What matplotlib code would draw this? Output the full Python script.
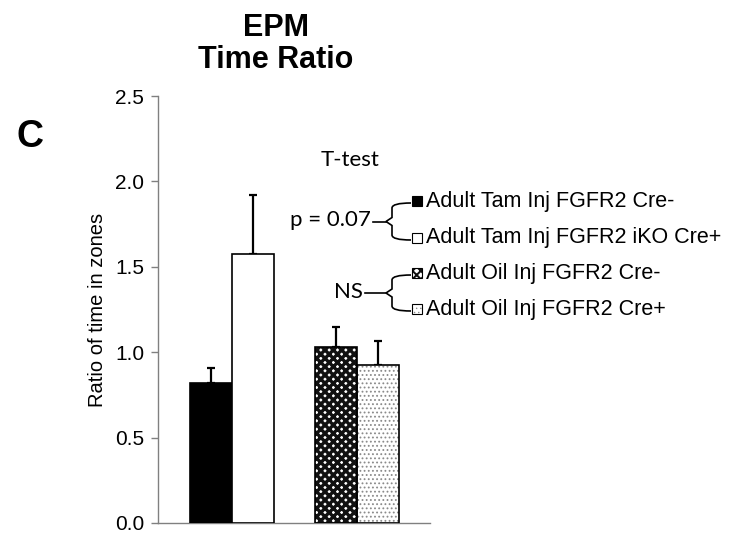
import numpy as np
import matplotlib.pyplot as plt
from matplotlib.patches import Rectangle, PathPatch
from matplotlib.path import Path

# data
groups = ['Adult Tam Inj FGFR2 Cre-', 'Adult Tam Inj FGFR2 iKO Cre+',
          'Adult Oil Inj FGFR2 Cre-', 'Adult Oil Inj FGFR2 Cre+']
means = [0.82, 1.575, 1.03, 0.925]
sems = [0.085, 0.345, 0.12, 0.14]
xpos = [1.26, 2.26, 4.24, 5.24]

plt.rcParams['font.family'] = ['Liberation Sans', 'DejaVu Sans']

fig = plt.figure(figsize=(7.48, 5.33), dpi=100)
W, H = 748, 533
ax = fig.add_axes([158 / W, 1 - 523 / H, 272 / W, (523 - 96) / H])

face = ['black', 'white', 'white', 'white']
hatch = [None, None, 'xxxx', '....']
hcol = ['black', 'black', '#111111', '#8a8a8a']
hlw = [1, 1, 2.4, 0.8]
for x, m, s, fc, h, hc, lw in zip(xpos, means, sems, face, hatch, hcol, hlw):
    ax.errorbar(x, m, yerr=[[0], [s]], fmt='none', ecolor='black',
                elinewidth=1.6, capsize=3, capthick=1.6, zorder=1)
    if h:
        with plt.rc_context({'hatch.linewidth': lw}):
            ax.bar(x, m, width=1.0, color=fc, hatch=h, edgecolor=hc, linewidth=0, zorder=2)
    ax.bar(x, m, width=1.0, color=fc if not h else 'none', edgecolor='black',
           linewidth=1.2, zorder=3)

ax.set_xlim(0, 272 / 42)
ax.set_ylim(0, 2.5)
ax.set_yticks([0, 0.5, 1.0, 1.5, 2.0, 2.5])
ax.set_yticklabels(['0.0', '0.5', '1.0', '1.5', '2.0', '2.5'])
ax.set_xticks([])
for sp in ['top', 'right']:
    ax.spines[sp].set_visible(False)
for sp in ['left', 'bottom']:
    ax.spines[sp].set_color('#808080')
    ax.spines[sp].set_linewidth(1.0)
ax.tick_params(axis='y', colors='#808080', labelcolor='black', labelsize=15,
               length=5, width=1.0, pad=5)
ax.set_ylabel('Ratio of time in zones', fontsize=14.5, labelpad=6)


def px(x, y):
    return x / W, 1 - y / H


fig.text(*px(276, 44), 'EPM\nTime Ratio', ha='center', va='center',
         fontsize=22, fontweight='bold', linespacing=1.1)
fig.text(*px(30, 137), 'C', ha='center', va='center',
         fontsize=27, fontweight='bold')

# legend drawn by hand
calib = ['Lato', 'DejaVu Sans']
fig.text(*px(350, 160), 'T-test', family=calib, fontsize=16, ha='center', va='center')
rows = [201, 238, 273, 309]
for y, g, fc, h, hc, lw in zip(rows, groups, face, hatch, hcol, hlw):
    x0, y0 = px(412, y + 5)
    if h:
        with plt.rc_context({'hatch.linewidth': lw * 0.6}):
            r = Rectangle((x0, y0), 10 / W, 10 / H, transform=fig.transFigure,
                          facecolor=fc, hatch=h, edgecolor=hc, linewidth=0)
        fig.patches.append(r)
        fc = 'none'
    r = Rectangle((x0, y0), 10 / W, 10 / H, transform=fig.transFigure,
                  facecolor=fc, edgecolor='black', linewidth=0.8)
    fig.patches.append(r)
    fig.text(*px(426, y), g, fontsize=15.5, ha='left', va='center')


def brace(ytop, ybot, xr, xm, label, xlab):
    yc = (ytop + ybot) / 2
    k = 5
    verts = [(xr, ytop), (xm, ytop), (xm, ytop + k), (xm, yc - 4), (xm - 6, yc),
             (xm, yc + 4), (xm, ybot - k), (xm, ybot), (xr, ybot)]
    codes = [Path.MOVETO, Path.CURVE3, Path.CURVE3, Path.LINETO, Path.LINETO,
             Path.LINETO, Path.LINETO, Path.CURVE3, Path.CURVE3]
    verts = [px(a, b) for a, b in verts]
    fig.patches.append(PathPatch(Path(verts, codes), transform=fig.transFigure,
                                 facecolor='none', edgecolor='black', linewidth=1.2))
    fig.lines.append(plt.Line2D([px(xlab, 0)[0], px(xm - 6, 0)[0]],
                                [px(0, yc)[1]] * 2, transform=fig.transFigure,
                                color='black', linewidth=1.2))
    fig.text(*px(xlab - 2, yc - 1), label, family=calib, fontsize=16,
             ha='right', va='center')

brace(203, 240, 411, 392, 'p = 0.07', 373)
brace(275, 311, 411, 392, 'NS', 365)

fig.savefig('out.png', dpi=100)
